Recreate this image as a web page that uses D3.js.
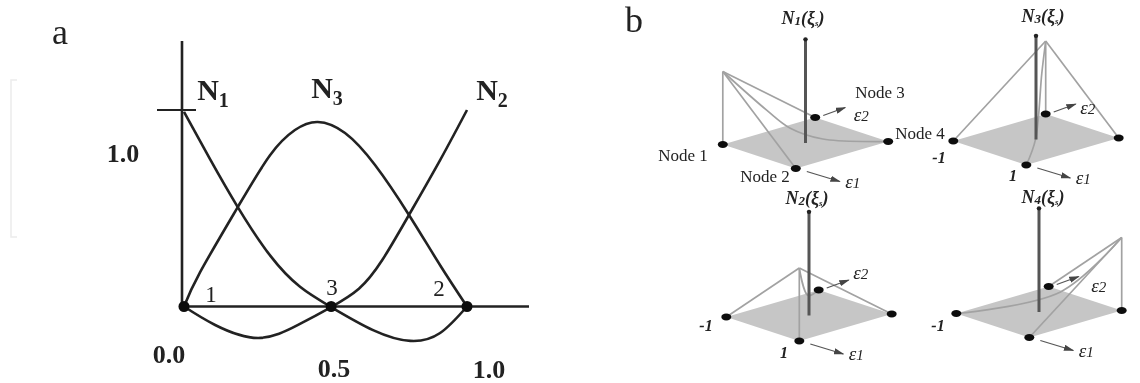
<!DOCTYPE html>
<html>
<head>
<meta charset="utf-8">
<script src="https://cdn.jsdelivr.net/npm/d3@7"></script>
<style>
  html, body { margin: 0; padding: 0; background: #fff; }
  svg { display: block; }
  text { font-family: "Liberation Serif", serif; fill: #222; }
</style>
</head>
<body>
<svg id="chart" width="1140" height="383"></svg>
<script>
// panel a: shape function values
var n1_x = [0, 0.092, 0.19, 0.304, 0.41, 0.52, 0.668, 0.8, 0.905, 1];
var n1_y = [0.99, 0.75, 0.506, 0.26, 0.1, -0.003, -0.12, -0.175, -0.135, 0];
var n2_x = [0, 0.11, 0.262, 0.403, 0.52, 0.618, 0.7, 0.795, 0.905, 1];
var n2_y = [0, -0.094, -0.16, -0.094, -0.003, 0.09, 0.235, 0.466, 0.745, 1];
var n3_x = [0, 0.057, 0.19, 0.304, 0.392, 0.473, 0.569, 0.675, 0.795, 0.905, 1];
var n3_y = [0, 0.175, 0.506, 0.77, 0.898, 0.939, 0.883, 0.72, 0.466, 0.21, 0];
var node_x = [0, 0.52, 1];
var node_names = ["1", "3", "2"];
var x_tick_labels = ["0.0", "0.5", "1.0"];
var y_tick_labels = ["1.0"];

// panel b: element corners and shape surfaces as [xi1, xi2, N]
var corners = [[-1, -1, 0], [1, -1, 0], [1, 1, 0], [-1, 1, 0]];
var n1_lines = [
  [[-1, -1, 1], [-1, -1, 0]],
  [[-1, -1, 1], [1, -1, 0]],
  [[-1, -1, 1], [-1, 1, 0]],
  [[-1, -1, 1], [-0.47, -0.47, 0.46], [-0.19, -0.19, 0.21], [0.21, 0.21, 0.05], [1, 1, 0]]
];
var n2_lines = [
  [[1, -1, 1], [1, -1, 0]],
  [[1, -1, 1], [-1, -1, 0]],
  [[1, -1, 1], [1, 1, 0]],
  [[1, -1, 1], [0.1, -0.1, 0.31], [-1, 1, 0]]
];
var n3_lines = [
  [[-1, 1, 1], [-1, 1, 0]],
  [[-1, 1, 1], [-1, -1, 0]],
  [[-1, 1, 1], [1, 1, 0]],
  [[-1, 1, 1], [-0.6, 0.6, 0.7], [0.05, -0.05, 0.02], [1, -1, 0]]
];
var n4_lines = [
  [[1, 1, 1], [1, 1, 0]],
  [[1, 1, 1], [-1, 1, 0]],
  [[1, 1, 1], [1, -1, 0]],
  [[1, 1, 1], [0.26, 0.26, 0.27], [-1, -1, 0]]
];
var axis_height = 1.42;

var svg = d3.select("#chart");
var defs = svg.append("defs");
defs.append("filter").attr("id", "soft")
  .attr("x", "-5%").attr("y", "-5%").attr("width", "110%").attr("height", "110%")
  .append("feGaussianBlur").attr("stdDeviation", 0.55);
defs.append("marker").attr("id", "head")
  .attr("viewBox", "0 0 10 6").attr("refX", 9).attr("refY", 3)
  .attr("markerWidth", 8).attr("markerHeight", 5).attr("orient", "auto")
  .append("path").attr("d", "M0,0L10,3L0,6Z").attr("fill", "#444");

var root = svg.append("g").attr("filter", "url(#soft)");

// faint bracket left over at the far left of the picture
root.append("path")
  .attr("d", "M17,80H11V237H17")
  .attr("fill", "none").attr("stroke", "#ececec").attr("stroke-width", 1.5);

//// panel a
var x = d3.scaleLinear().domain([0, 1]).range([184, 467]);
var y = d3.scaleLinear().domain([0, 1]).range([306.5, 110]);
var curve = d3.line()
  .x(function(d) { return x(d[0]); })
  .y(function(d) { return y(d[1]); })
  .curve(d3.curveNatural);
var a = root.append("g");

// axes
a.append("line").attr("x1", x(0) - 2).attr("x2", x(0) - 2)
  .attr("y1", 41).attr("y2", y(0))
  .attr("stroke", "#222").attr("stroke-width", 2.6);
a.append("line").attr("x1", x(0)).attr("x2", 529)
  .attr("y1", y(0)).attr("y2", y(0))
  .attr("stroke", "#222").attr("stroke-width", 2.6);
a.append("line").attr("x1", 157).attr("x2", 196)
  .attr("y1", y(1)).attr("y2", y(1))
  .attr("stroke", "#222").attr("stroke-width", 2);

[[n1_x, n1_y], [n2_x, n2_y], [n3_x, n3_y]].forEach(function(s) {
  a.append("path")
    .datum(d3.zip(s[0], s[1]))
    .attr("d", curve)
    .attr("fill", "none")
    .attr("stroke", "#222")
    .attr("stroke-width", 2.6);
});

a.selectAll("circle.node").data(node_x).enter().append("circle")
  .attr("class", "node")
  .attr("cx", function(d) { return x(d); })
  .attr("cy", y(0))
  .attr("r", 5.5)
  .attr("fill", "#111");

// node numbers
var name_pos = [[211, 302], [332, 295], [439, 296]];
a.selectAll("text.name").data(node_names).enter().append("text")
  .attr("class", "name")
  .attr("x", function(d, i) { return name_pos[i][0]; })
  .attr("y", function(d, i) { return name_pos[i][1]; })
  .attr("text-anchor", "middle")
  .attr("font-size", 23)
  .text(function(d) { return d; });

// tick labels
var x_label_pos = [[169, 363], [334, 377], [489, 378]];
a.selectAll("text.xtick").data(x_tick_labels).enter().append("text")
  .attr("class", "xtick")
  .attr("x", function(d, i) { return x_label_pos[i][0]; })
  .attr("y", function(d, i) { return x_label_pos[i][1]; })
  .attr("text-anchor", "middle")
  .attr("font-size", 26)
  .attr("font-weight", "bold")
  .text(function(d) { return d; });
a.append("text").attr("x", 123).attr("y", 162)
  .attr("text-anchor", "middle").attr("font-size", 26).attr("font-weight", "bold")
  .text(y_tick_labels[0]);

function series_label(tx, ty, base, sub) {
  var t = a.append("text").attr("x", tx).attr("y", ty)
    .attr("text-anchor", "middle").attr("font-size", 30).attr("font-weight", "bold");
  t.append("tspan").text(base);
  t.append("tspan").attr("font-size", 20).attr("dy", 7).text(sub);
}
series_label(213, 100, "N", "1");
series_label(327, 98, "N", "3");
series_label(492, 100, "N", "2");

root.append("text").attr("x", 60).attr("y", 44)
  .attr("text-anchor", "middle").attr("font-size", 36).text("a");
root.append("text").attr("x", 634).attr("y", 32)
  .attr("text-anchor", "middle").attr("font-size", 36).text("b");

//// panel b
var px1 = d3.scaleLinear().domain([-1, 1]).range([-36.5, 36.5]);
var py1 = d3.scaleLinear().domain([-1, 1]).range([-12, 12]);
var px2 = d3.scaleLinear().domain([-1, 1]).range([-46.2, 46.2]);
var py2 = d3.scaleLinear().domain([-1, 1]).range([13.5, -13.5]);
var pz = d3.scaleLinear().domain([0, 1]).range([0, -73]);

function project(p) {
  return [px1(p[0]) + px2(p[1]), py1(p[0]) + py2(p[1]) + pz(p[2])];
}
var surface = d3.line().curve(d3.curveCatmullRom.alpha(0.5));
var outline = d3.line().curve(d3.curveLinearClosed);

function draw_element(o) {
  var g = root.append("g").attr("transform", "translate(" + o.cx + "," + o.cy + ")");
  g.append("path")
    .attr("d", outline(corners.map(project)))
    .attr("fill", "#c6c6c6");
  o.lines.forEach(function(l) {
    g.append("path")
      .attr("d", surface(l.map(project)))
      .attr("fill", "none")
      .attr("stroke", "#a2a2a2")
      .attr("stroke-width", 1.7);
  });
  // vertical N axis
  var top = project([0, 0, axis_height]);
  g.append("line")
    .attr("x1", 0).attr("x2", 0).attr("y1", 0).attr("y2", top[1])
    .attr("stroke", "#555").attr("stroke-width", 3);
  g.append("circle").attr("cx", 0).attr("cy", top[1]).attr("r", 2.2).attr("fill", "#222");

  g.selectAll("ellipse").data(corners).enter().append("ellipse")
    .attr("cx", function(d) { return project(d)[0]; })
    .attr("cy", function(d) { return project(d)[1]; })
    .attr("rx", 5).attr("ry", 3.4)
    .attr("fill", "#111");

  // local direction arrows next to the front and back corners
  var front = project([1, -1, 0]), back = project([-1, 1, 0]);
  g.append("line")
    .attr("x1", front[0] + 11).attr("y1", front[1] + 3)
    .attr("x2", front[0] + 44).attr("y2", front[1] + 13)
    .attr("stroke", "#555").attr("stroke-width", 1.3).attr("marker-end", "url(#head)");
  g.append("line")
    .attr("x1", back[0] + 8).attr("y1", back[1] - 2)
    .attr("x2", back[0] + 30).attr("y2", back[1] - 10)
    .attr("stroke", "#555").attr("stroke-width", 1.3).attr("marker-end", "url(#head)");

  var e1 = g.append("text")
    .attr("x", front[0] + 57).attr("y", front[1] + 19)
    .attr("text-anchor", "middle").attr("font-size", 19).attr("font-style", "italic").attr("fill", "#333");
  e1.append("tspan").text("ε");
  e1.append("tspan").attr("font-size", 15).text("1");
  var e2 = g.append("text")
    .attr("x", back[0] + o.e2[0]).attr("y", back[1] + o.e2[1])
    .attr("text-anchor", "middle").attr("font-size", 19).attr("font-style", "italic").attr("fill", "#333");
  e2.append("tspan").text("ε");
  e2.append("tspan").attr("font-size", 15).text("2");

  var t = root.append("text").attr("x", o.title[0]).attr("y", o.title[1])
    .attr("text-anchor", "middle").attr("font-size", 18)
    .attr("font-weight", "bold").attr("font-style", "italic");
  t.append("tspan").text("N");
  t.append("tspan").attr("font-size", 13).attr("dy", 1).text(o.sub);
  t.append("tspan").attr("dy", -1).text("(ξ");
  t.append("tspan").attr("font-size", 9).attr("dy", 2).text("s");
  t.append("tspan").attr("dy", -2).text(")");
}

draw_element({cx: 805.5, cy: 143, lines: n1_lines, sub: "1", title: [803, 24], e2: [46, 3]});
draw_element({cx: 1036, cy: 139.5, lines: n3_lines, sub: "3", title: [1043, 22], e2: [42, 0]});
draw_element({cx: 809, cy: 315.5, lines: n2_lines, sub: "2", title: [807, 204], e2: [42, -11]});
draw_element({cx: 1039, cy: 312, lines: n4_lines, sub: "4", title: [1043, 203], e2: [50, 5]});

// node and corner labels
var b_labels = ["Node 1", "Node 2", "Node 3", "Node 4"];
var b_label_pos = [[683, 161], [765, 182], [880, 98], [920, 139]];
root.selectAll("text.nodelabel").data(b_labels).enter().append("text")
  .attr("class", "nodelabel")
  .attr("x", function(d, i) { return b_label_pos[i][0]; })
  .attr("y", function(d, i) { return b_label_pos[i][1]; })
  .attr("text-anchor", "middle")
  .attr("font-size", 17)
  .attr("fill", "#333")
  .text(function(d) { return d; });

var corner_labels = ["-1", "1", "-1", "1", "-1"];
var corner_pos = [[939, 163], [1013, 181], [706, 331], [784, 358], [938, 331]];
root.selectAll("text.corner").data(corner_labels).enter().append("text")
  .attr("class", "corner")
  .attr("x", function(d, i) { return corner_pos[i][0]; })
  .attr("y", function(d, i) { return corner_pos[i][1]; })
  .attr("text-anchor", "middle")
  .attr("font-size", 16)
  .attr("font-weight", "bold")
  .attr("font-style", "italic")
  .text(function(d) { return d; });
</script>
</body>
</html>
